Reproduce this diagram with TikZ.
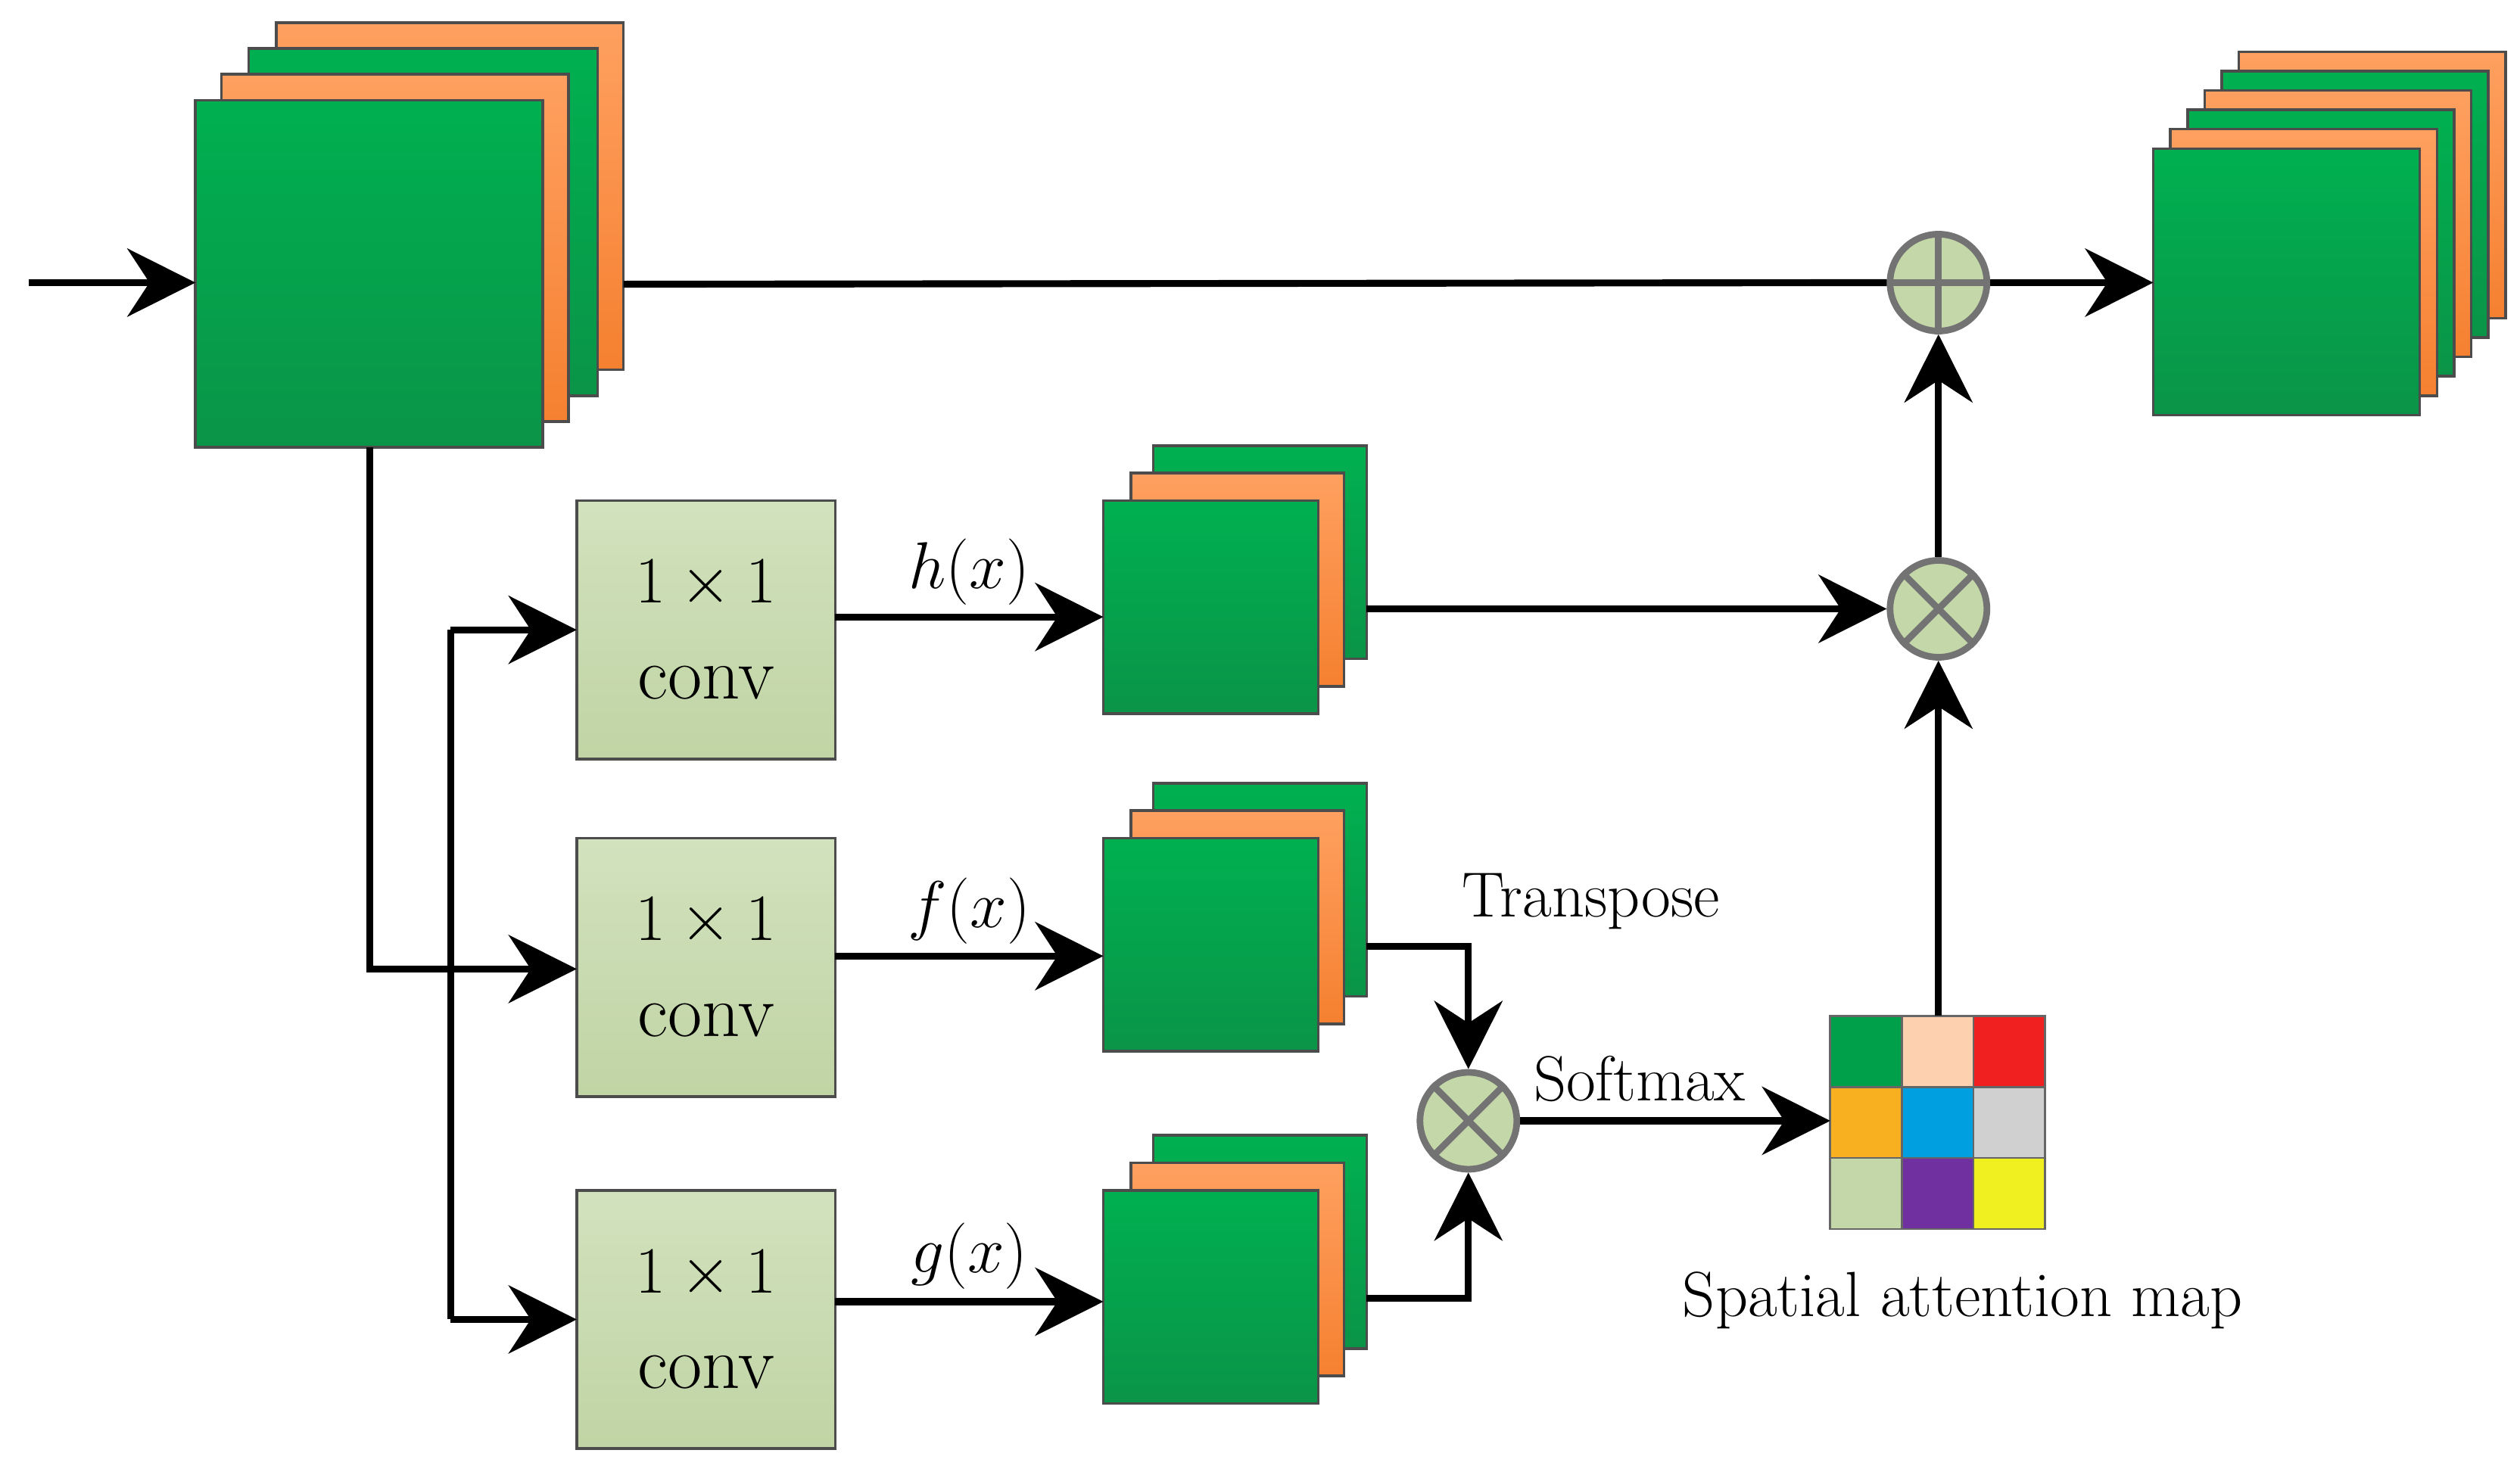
\documentclass[tikz,border=0pt]{standalone}
\usetikzlibrary{arrows.meta}
\definecolor{fmgreen}{HTML}{00B050}
\definecolor{fmgreendk}{HTML}{0A9448}
\definecolor{fmorange}{HTML}{FFA060}
\definecolor{fmorangedk}{HTML}{F58030}
\definecolor{convlt}{HTML}{D2E2BE}
\definecolor{convdk}{HTML}{C0D4A4}
\definecolor{opfill}{HTML}{C4D7A8}
\tikzset{
  gmap/.style={draw=black!70, line width=1pt, top color=fmgreen, bottom color=fmgreendk},
  omap/.style={draw=black!70, line width=1pt, top color=fmorange, bottom color=fmorangedk},
  conv/.style={draw=black!70, line width=1pt, top color=convlt, bottom color=convdk},
  op/.style={circle, draw=black!55, line width=2.5pt, fill=opfill, minimum size=1.28cm, inner sep=0pt},
  flow/.style={line width=2.6pt, -{Stealth[length=0.9cm, width=0.9cm]}},
  wire/.style={line width=2.6pt},
  lbl/.style={font=\fontsize{24}{28}\selectfont}
}
\begin{document}
\begin{tikzpicture}[x=0.02134cm, y=-0.02134cm]
        \useasboundingbox (0,0) rectangle (1560,913);
        % input stack
        \draw [omap] (171,14) rectangle (386,229);
        \draw [gmap] (154,30) rectangle (370,245);
        \draw [omap] (137,46) rectangle (352,261);
        \draw [gmap] (121,62) rectangle (336,277);
        \coordinate (in) at (18,175);
        \coordinate (inmap) at (121,175);
        \coordinate (inback) at (386,176);
        \coordinate (indown) at (229,277);
        % output stack
        \foreach \i/\s in {5/omap,4/gmap,3/omap,2/gmap,1/omap,0/gmap}
          \draw [\s] ({1333+10.6*\i},{92-12*\i}) rectangle +(165,165);
        \coordinate (outmap) at (1333,175);
        % conv blocks
        \foreach \n/\y in {h/310,f/519,g/737} {
          \draw [conv] (357,\y) rectangle +(160,160);
          \node [lbl, font=\fontsize{28}{36}\selectfont, align=center] (conv\n) at (437,\y+80) {$1\times1$\\conv};
          \draw [gmap] (714,\y-34) rectangle +(132,132);
          \draw [omap] (700,\y-17) rectangle +(132,132);
          \draw [gmap] (683,\y) rectangle +(133,132);
        }
        % operators
        \node [op] (add) at (1200,175) {};
        \draw [line width=2.5pt, black!55] (add.north) -- (add.south) (add.west) -- (add.east);
        \node [op] (mul) at (1200,377) {};
        \draw [line width=2.5pt, black!55] (mul.north east) -- (mul.south west) (mul.north west) -- (mul.south east);
        \node [op] (mulfg) at (909,694) {};
        \draw [line width=2.5pt, black!55] (mulfg.north east) -- (mulfg.south west) (mulfg.north west) -- (mulfg.south east);
        % attention map
        \foreach \c [count=\k from 0] in {00A04A,FDD0B0,F02020,F8B020,00A0E0,D0D0D0,C4D7A8,7030A0,F0F020} {
          \pgfmathtruncatemacro{\col}{mod(\k,3)}
          \pgfmathtruncatemacro{\row}{div(\k,3)}
          \definecolor{cell}{HTML}{\c}
          \fill [cell] ({1133+44.33*\col},{629+44*\row}) rectangle +(44.33,44);
        }
        \foreach \i in {1,2} {
          \draw [black!60, line width=0.8pt] ({1133+44.33*\i},629) -- ({1133+44.33*\i},761);
          \draw [black!60, line width=0.8pt] (1133,{629+44*\i}) -- (1266,{629+44*\i});
        }
        \draw [black!60, line width=0.8pt] (1133,629) rectangle (1266,761);
        \node [lbl] (amaplbl) at (1215,805) {Spatial attention map};
        \node [lbl] (translbl) at (985,558) {Transpose};
        \node [lbl] (softlbl) at (1015,668) {Softmax};
        % connectors
        \draw [flow] (in) -- (inmap);
        \draw [wire] (inback) -- (add.west);
        \draw [flow] (add.east) -- (outmap);
        \draw [flow] (indown) |- (357,600);
        \draw [wire] (279,390) -- (279,817);
        \draw [flow] (279,390) -- (357,390);
        \draw [flow] (279,817) -- (357,817);
        \draw [flow] (517,382) -- node [lbl, above] {$h(x)$} (683,382);
        \draw [flow] (517,592) -- node [lbl, above] {$f(x)$} (683,592);
        \draw [flow] (517,806) -- node [lbl, above] {$g(x)$} (683,806);
        \draw [flow] (846,377) -- (mul.west);
        \draw [flow] (mul.north) -- (add.south);
        \draw [flow] (846,586) -| (mulfg.north);
        \draw [flow] (846,804) -| (mulfg.south);
        \draw [flow] (mulfg.east) -- (1133,694);
        \draw [flow] (1200,629) -- (mul.south);
\end{tikzpicture}
\end{document}
